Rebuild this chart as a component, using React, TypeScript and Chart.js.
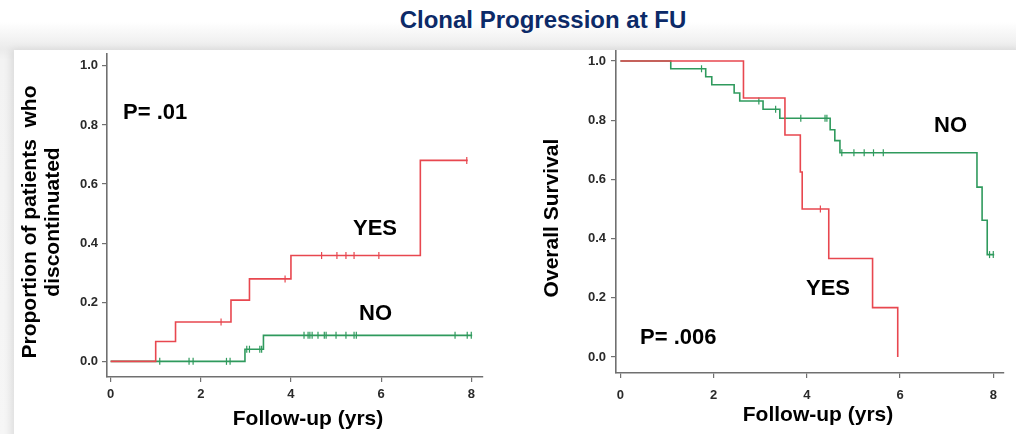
import React, { useEffect, useRef } from 'react';
import { Chart, registerables } from 'chart.js';

Chart.register(...registerables);

const FONT = '"Liberation Sans", Arial, Helvetica, sans-serif';
const RED = '#e8474f';
const GREEN = '#2f9a5d';
const AXIS = '#707070';

// ---------- Left panel: proportion of patients who discontinued ----------
const DISC_X_TICKS = [0, 2, 4, 6, 8];
const DISC_Y_TICKS = [0, 0.2, 0.4, 0.6, 0.8, 1.0];
const DISC_YES_TIMES = [0, 1.0, 1.44, 2.67, 3.08, 4.0, 6.87, 7.92];
const DISC_YES_VALUES = [0, 0.067, 0.133, 0.207, 0.279, 0.358, 0.68, 0.68];
const DISC_YES_CENSORED = [2.45, 3.87, 4.68, 5.02, 5.22, 5.4, 5.95, 7.9];
const DISC_NO_TIMES = [0, 2.98, 3.39, 8.02];
const DISC_NO_VALUES = [0, 0.041, 0.088, 0.088];
const DISC_NO_CENSORED = [1.09, 1.74, 1.83, 2.57, 2.65, 3.02, 3.08, 3.31, 3.35, 4.29, 4.38, 4.42, 4.47, 4.6, 4.74, 4.78, 5.0, 5.22, 5.4, 5.45, 7.64, 7.91, 8.0];

// ---------- Right panel: overall survival ----------
const OS_X_TICKS = [0, 2, 4, 6, 8];
const OS_Y_TICKS = [0, 0.2, 0.4, 0.6, 0.8, 1.0];
const OS_YES_TIMES = [0, 2.64, 3.53, 3.86, 3.9, 4.47, 5.41, 5.95];
const OS_YES_VALUES = [1, 0.875, 0.75, 0.625, 0.5, 0.333, 0.167, 0];
const OS_YES_CENSORED = [4.29];
const OS_NO_TIMES = [0, 1.08, 1.83, 1.96, 2.44, 2.56, 3.06, 3.42, 4.5, 4.6, 4.71, 7.65, 7.76, 7.87, 8.02];
const OS_NO_VALUES = [1, 0.974, 0.947, 0.92, 0.892, 0.865, 0.837, 0.807, 0.768, 0.731, 0.69, 0.574, 0.462, 0.346, 0.346];
const OS_NO_CENSORED = [1.74, 2.97, 3.33, 3.87, 4.39, 4.43, 4.75, 5.01, 5.23, 5.43, 5.64, 7.92, 8.0];

function stepAt(times: number[], values: number[], t: number) {
  let v = values[0];
  for (let i = 0; i < times.length; i++) if (times[i] <= t) v = values[i];
  return v;
}

function curve(times: number[], values: number[], color: string) {
  return {
    data: times.map((t, i) => ({ x: t, y: values[i] })),
    borderColor: color,
    borderWidth: 1.6,
    stepped: true as const,
    pointRadius: 0,
    fill: false,
    showLine: true,
  };
}

function censor(times: number[], values: number[], cens: number[], color: string) {
  return {
    data: cens.map((t) => ({ x: t, y: stepAt(times, values, t) })),
    borderColor: color,
    backgroundColor: color,
    borderWidth: 1.2,
    showLine: false,
    pointStyle: 'line' as const,
    rotation: 90,
    pointRadius: 3.5,
  };
}

type TextItem = { text: string; x: number; y: number; size: number; align?: CanvasTextAlign; rot?: boolean };

const textPlugin = {
  id: 'kmText',
  afterDraw(chart: any, _args: any, opts: any) {
    const ctx = chart.ctx as CanvasRenderingContext2D;
    (opts.items as TextItem[]).forEach((it) => {
      ctx.save();
      ctx.fillStyle = '#000';
      ctx.font = `bold ${it.size}px ${FONT}`;
      ctx.textBaseline = 'middle';
      ctx.textAlign = it.align || 'center';
      ctx.translate(it.x, it.y);
      if (it.rot) ctx.rotate(-Math.PI / 2);
      ctx.fillText(it.text, 0, 0);
      ctx.restore();
    });
  },
};

function makeConfig(p: {
  datasets: any[];
  xr: [number, number];
  yr: [number, number];
  xTicks: number[];
  yTicks: number[];
  yWidth: number;
  xHeight: number;
  xPad: number;
  yPad: number;
  padding: any;
  texts: TextItem[];
}) {
  const tickFont = { family: FONT, size: 13, weight: 'bold' as const };
  return {
    type: 'line' as const,
    data: { datasets: p.datasets },
    plugins: [textPlugin],
    options: {
      responsive: false,
      animation: false as const,
      layout: { padding: p.padding, autoPadding: false },
      plugins: {
        legend: { display: false },
        tooltip: { enabled: false },
        kmText: { items: p.texts },
      },
      scales: {
        x: {
          type: 'linear' as const,
          min: p.xr[0],
          max: p.xr[1],
          afterBuildTicks: (s: any) => {
            s.ticks = p.xTicks.map((v) => ({ value: v }));
          },
          afterFit: (s: any) => {
            s.height = p.xHeight;
            s.paddingLeft = 0;
            s.paddingRight = 0;
            s.paddingTop = 0;
            s.paddingBottom = 0;
          },
          grid: { display: true, drawOnChartArea: false, drawTicks: true, tickLength: 5, color: AXIS, lineWidth: 1.2 },
          border: { display: true, color: AXIS, width: 1.6 },
          ticks: { padding: p.xPad, font: tickFont, color: '#2a2a2a', maxRotation: 0, autoSkip: false, callback: (v: any) => String(v) },
        },
        y: {
          type: 'linear' as const,
          min: p.yr[0],
          max: p.yr[1],
          afterBuildTicks: (s: any) => {
            s.ticks = p.yTicks.map((v) => ({ value: v }));
          },
          afterFit: (s: any) => {
            s.width = p.yWidth;
            s.paddingTop = 0;
            s.paddingBottom = 0;
            s.paddingLeft = 0;
            s.paddingRight = 0;
          },
          grid: { display: true, drawOnChartArea: false, drawTicks: true, tickLength: 5, color: AXIS, lineWidth: 1.2 },
          border: { display: true, color: AXIS, width: 1.6 },
          ticks: { padding: p.yPad, font: tickFont, color: '#2a2a2a', autoSkip: false, callback: (v: any) => Number(v).toFixed(1) },
        },
      },
    },
  };
}

function ChartCanvas({ width, height, left, top, config }: { width: number; height: number; left: number; top: number; config: () => any }) {
  const ref = useRef<HTMLCanvasElement>(null);
  useEffect(() => {
    const chart = new Chart(ref.current as HTMLCanvasElement, config());
    return () => chart.destroy();
  }, []);
  return (
    <div style={{ position: 'absolute', left, top, width, height }}>
      <canvas ref={ref} width={width} height={height} style={{ display: 'block', width, height }} />
    </div>
  );
}

const leftConfig = () =>
  makeConfig({
    datasets: [
      curve(DISC_YES_TIMES, DISC_YES_VALUES, RED),
      censor(DISC_YES_TIMES, DISC_YES_VALUES, DISC_YES_CENSORED, RED),
      curve(DISC_NO_TIMES, DISC_NO_VALUES, GREEN),
      censor(DISC_NO_TIMES, DISC_NO_VALUES, DISC_NO_CENSORED, GREEN),
    ],
    xr: [-0.08, 8.26],
    yr: [-0.053, 1.04],
    xTicks: DISC_X_TICKS,
    yTicks: DISC_Y_TICKS,
    yWidth: 93,
    xHeight: 57,
    xPad: 5,
    yPad: 4,
    padding: { left: 0, top: 4, right: 25, bottom: 0 },
    texts: [
      { text: 'Proportion of patients  who', x: 16, y: 172, size: 21, rot: true },
      { text: 'discontinuated', x: 39, y: 172, size: 21, rot: true },
      { text: 'Follow-up (yrs)', x: 294, y: 369, size: 21 },
      { text: 'P= .01', x: 109, y: 62.5, size: 22, align: 'left' },
      { text: 'YES', x: 339, y: 179, size: 22, align: 'left' },
      { text: 'NO', x: 345, y: 264, size: 22, align: 'left' },
    ],
  });

const rightConfig = () =>
  makeConfig({
    datasets: [
      curve(OS_YES_TIMES, OS_YES_VALUES, RED),
      censor(OS_YES_TIMES, OS_YES_VALUES, OS_YES_CENSORED, RED),
      curve(OS_NO_TIMES, OS_NO_VALUES, GREEN),
      censor(OS_NO_TIMES, OS_NO_VALUES, OS_NO_CENSORED, GREEN),
    ],
    xr: [-0.095, 8.23],
    yr: [-0.054, 1.034],
    xTicks: OS_X_TICKS,
    yTicks: OS_Y_TICKS,
    yWidth: 108,
    xHeight: 61,
    xPad: 10,
    yPad: 5,
    padding: { left: 0, top: 1, right: 12, bottom: 0 },
    texts: [
      { text: 'Overall Survival', x: 44, y: 168, size: 21, rot: true },
      { text: 'Follow-up (yrs)', x: 310, y: 365, size: 21 },
      { text: 'NO', x: 426, y: 75.5, size: 22, align: 'left' },
      { text: 'YES', x: 298, y: 239, size: 22, align: 'left' },
      { text: 'P= .006', x: 132, y: 288, size: 22, align: 'left' },
    ],
  });

export default function App() {
  useEffect(() => {
    document.body.style.margin = '0';
    document.body.style.overflow = 'hidden';
  }, []);
  return (
    <div
      style={{
        position: 'relative',
        width: 1016,
        height: 434,
        overflow: 'hidden',
        background: 'linear-gradient(to bottom, #ffffff 0px, #ffffff 22px, #ebebeb 49px, #f3f3f3 60px, #f6f6f6 434px)',
        fontFamily: FONT,
      }}
    >
      <div
        style={{
          position: 'absolute',
          left: 343,
          top: 8,
          width: 400,
          textAlign: 'center',
          fontSize: 24,
          lineHeight: '24px',
          fontWeight: 'bold',
          color: '#0c2a68',
        }}
      >
        Clonal Progression at FU
      </div>
      <div
        style={{
          position: 'absolute',
          left: 14,
          top: 50,
          width: 1010,
          height: 400,
          background: '#ffffff',
          boxShadow: '-3px 0 8px rgba(0,0,0,0.10)',
        }}
      />
      <ChartCanvas left={14} top={50} width={494} height={384} config={leftConfig} />
      <ChartCanvas left={508} top={50} width={508} height={384} config={rightConfig} />
    </div>
  );
}
